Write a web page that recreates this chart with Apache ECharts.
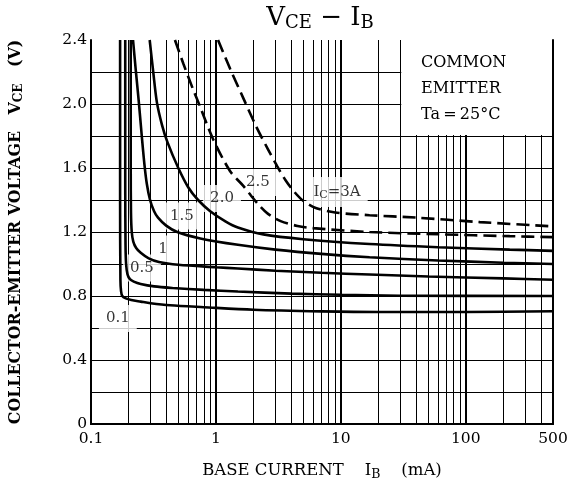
<!DOCTYPE html>
<html><head><meta charset="utf-8">
<script src="https://cdn.jsdelivr.net/npm/echarts@6/dist/echarts.min.js"></script>
<style>html,body{margin:0;padding:0;background:#fff}#c{width:577px;height:490px}</style>
</head><body><div id="c"></div>
<script>
// ---- data ----
const xTickLabels = [0.1, 1, 10, 100, 500];
const yTickStep = 0.4;
const xMinorGrid = [0.2,0.3,0.4,0.5,0.6,0.7,0.8,0.9, 2,3,4,5,6,7,8,9, 20,30,40,50,60,70,80,90, 200,300,400];
const xMajorGrid = [1, 10, 100];
const yGrid = [0.2,0.4,0.6,0.8,1.0,1.2,1.4,1.6,1.8,2.0,2.2];

const ic01 = [[0.171,2.4],[0.171,1.4],[0.172,0.9],[0.174,0.83],[0.178,0.80],[0.19,0.785],[0.21,0.775],[0.25,0.765],[0.3,0.755],[0.43,0.742],[0.8,0.73],[2,0.714],[7,0.704],[20,0.70],[100,0.70],[500,0.705]];
const ic05 = [[0.188,2.4],[0.188,1.5],[0.189,1.12],[0.191,1.0],[0.196,0.935],[0.205,0.905],[0.22,0.89],[0.25,0.875],[0.32,0.86],[0.45,0.85],[0.8,0.838],[1.5,0.828],[4,0.815],[10,0.808],[30,0.802],[500,0.80]];
const ic1 = [[0.208,2.4],[0.208,1.6],[0.209,1.32],[0.212,1.2],[0.218,1.14],[0.23,1.1],[0.25,1.07],[0.29,1.035],[0.35,1.012],[0.5,0.995],[1,0.98],[1.5,0.972],[3,0.958],[7,0.945],[17,0.934],[50,0.922],[200,0.91],[500,0.902]];
const ic15 = [[0.217,2.4],[0.229,2.2],[0.241,2.02],[0.255,1.8],[0.268,1.62],[0.28,1.5],[0.297,1.40],[0.32,1.33],[0.344,1.29],[0.4,1.24],[0.49,1.20],[0.75,1.16],[1.5,1.12],[3,1.09],[7,1.063],[17,1.042],[60,1.022],[200,1.008],[500,1.0]];
const ic2 = [[0.295,2.4],[0.315,2.2],[0.337,2.01],[0.37,1.87],[0.41,1.76],[0.5,1.6],[0.6,1.48],[0.72,1.40],[0.9,1.33],[1.2,1.265],[1.5,1.228],[2.4,1.185],[5,1.155],[17,1.125],[60,1.105],[225,1.09],[500,1.082]];
const ic25 = [[0.47,2.4],[0.55,2.25],[0.65,2.1],[0.75,1.98],[0.95,1.78],[1.3,1.58],[1.65,1.49],[1.9,1.43],[2.2,1.37],[2.6,1.315],[3.3,1.268],[4.5,1.238],[6,1.224],[17,1.2],[60,1.186],[225,1.174],[500,1.168]];
const ic3 = [[1.04,2.4],[1.3,2.22],[1.65,2.04],[2.1,1.86],[2.6,1.72],[3.1,1.61],[3.6,1.525],[4.2,1.455],[5,1.395],[6.3,1.35],[9,1.322],[17,1.305],[40,1.29],[130,1.262],[500,1.235]];

const curveNames = ['0.1A','0.5A','1A','1.5A','2.0A','2.5A','3A'];
const curveData = [ic01, ic05, ic1, ic15, ic2, ic25, ic3];
const curveDashed = [false,false,false,false,false,true,true];

const labelText = ['0.1','0.5','1','1.5','2.0','2.5','{n|I}{s|C}{n|=3A}'];
const labelX = [0.164, 0.256, 0.377, 0.535, 1.12, 2.17, 9.33];
const labelY = [0.66, 0.975, 1.094, 1.30, 1.41, 1.51, 1.45];

// ---- chart ----
const FONT = 'DejaVu Serif';
const chart = echarts.init(document.getElementById('c'), null, {renderer:'canvas'});
const subRich = {
  n: {fontFamily: FONT, fontSize: 15, color:'#000', lineHeight: 18},
  s: {fontFamily: FONT, fontSize: 11, color:'#000', lineHeight: 8, verticalAlign: 'bottom'}
};

const gridLineData = []
  .concat(xMinorGrid.map(v => ({xAxis: v, lineStyle:{width:1}})))
  .concat(xMajorGrid.map(v => ({xAxis: v, lineStyle:{width:2}})))
  .concat(yGrid.map(v => ({yAxis: v, lineStyle:{width:1}})));

const series = [
  { type:'line', name:'grid', data:[], z:1, silent:true,
    markLine:{ z:1, silent:true, symbol:['none','none'], label:{show:false}, animation:false,
      lineStyle:{color:'#000', type:'solid', width:1}, emphasis:{disabled:true},
      data: gridLineData } },
  { type:'line', name:'mask', data:[], z:2, silent:true,
    markArea:{ z:2, silent:true, itemStyle:{color:'#fff', opacity:1}, label:{show:false},
      emphasis:{disabled:true},
      data:[[{coord:[30.5, 1.807]},{coord:[499, 2.4]}]] } },
  { type:'scatter', name:'labels', z:3, silent:true, symbolSize:0,
    data: labelX.map((x,i)=>[x, labelY[i]]),
    label:{ show:true, position:'inside', color:'#000', fontFamily:FONT, fontSize:15,
      backgroundColor:'#fff', padding:[6,7],
      formatter: p => labelText[p.dataIndex], rich: subRich } }
];
curveData.forEach((d,i)=>{
  series.push({ type:'line', name:curveNames[i], data:d, z:4, showSymbol:false, symbol:'none',
    smooth:0.3, silent:true, animation:false,
    lineStyle:{color:'#000', width:2.6, type: curveDashed[i] ? [13,6] : 'solid', cap:'butt'} });
});

const option = {
  animation:false,
  backgroundColor:'#fff',
  grid:{left:91, right:24, top:40, bottom:66, show:false},
  xAxis:[{
    type:'log', logBase:10, min:0.1, max:500, z:10,
    axisLine:{show:true, lineStyle:{color:'#000', width:2}},
    axisTick:{show:false}, splitLine:{show:false},
    axisLabel:{customValues:xTickLabels, color:'#000', fontFamily:FONT, fontSize:15.5, margin:7,
      formatter: v => String(+v.toPrecision(3))},
    name:'{b|BASE CURRENT    I}{s|B}{b|    (mA)}', nameLocation:'middle', nameGap:37,
    nameTextStyle:{rich:{
      b:{fontFamily:FONT, fontSize:16.5, color:'#000', lineHeight:20},
      s:{fontFamily:FONT, fontSize:12.5, color:'#000', lineHeight:9, verticalAlign:'bottom'}}}
  },{
    type:'log', logBase:10, min:0.1, max:500, position:'top', z:10,
    axisLine:{show:true, lineStyle:{color:'#000', width:2}},
    axisTick:{show:false}, axisLabel:{show:false}, splitLine:{show:false}
  }],
  yAxis:[{
    type:'value', min:0, max:2.4, interval:yTickStep, z:10,
    axisLine:{show:true, lineStyle:{color:'#000', width:2}},
    axisTick:{show:false}, splitLine:{show:false},
    axisLabel:{color:'#000', fontFamily:FONT, fontSize:15.5, margin:4,
      formatter: v => v === 0 ? '0' : v.toFixed(1)},
    name:'{b|COLLECTOR-EMITTER VOLTAGE   V}{s|CE}{b|   (V)}', nameLocation:'middle', nameRotate:90, nameGap:66,
    nameTextStyle:{rich:{
      b:{fontFamily:FONT, fontSize:15.8, fontWeight:'bold', color:'#000', lineHeight:18},
      s:{fontFamily:FONT, fontSize:12, fontWeight:'bold', color:'#000', lineHeight:8, verticalAlign:'bottom'}}}
  },{
    type:'value', min:0, max:2.4, interval:yTickStep, position:'right', z:10,
    axisLine:{show:true, lineStyle:{color:'#000', width:2}},
    axisTick:{show:false}, axisLabel:{show:false}, splitLine:{show:false}
  }],
  graphic:[
    { type:'text', x:320, y:18, z:20,
      style:{ text:'{v|V}{s|CE}{v| − I}{s|B}', align:'center', verticalAlign:'middle',
        textAlign:'center', textVerticalAlign:'middle',
        rich:{ v:{fontFamily:FONT, fontSize:26, fill:'#000', lineHeight:28},
               s:{fontFamily:FONT, fontSize:18, fill:'#000', lineHeight:12, verticalAlign:'bottom'} } } },
    { type:'text', x:421, y:50, z:20,
      style:{ text:'COMMON\nEMITTER\nTa\u2009=\u200925°C', fill:'#000', font:'16px "DejaVu Serif"', lineHeight:26 } }
  ],
  series
};
chart.setOption(option);
</script>
</body></html>
